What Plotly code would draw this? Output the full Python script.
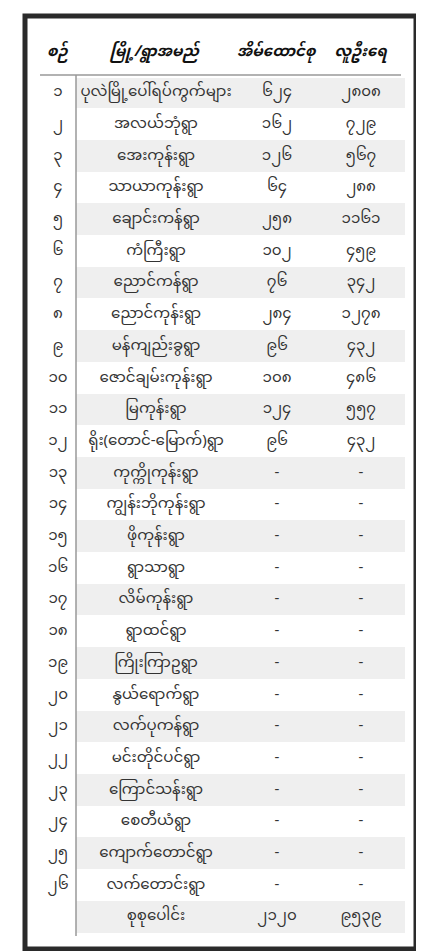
import plotly.graph_objects as go

# -- data
idx = ["၁", "၂", "၃", "၄", "၅", "၆", "၇", "၈", "၉", "၁၀", "၁၁", "၁၂", "၁၃",
       "၁၄", "၁၅", "၁၆", "၁၇", "၁၈", "၁၉", "၂၀", "၂၁", "၂၂", "၂၃", "၂၄", "၂၅", "၂၆", ""]
names = ["ပုလဲမြို့ပေါ်ရပ်ကွက်များ", "အလယ်ဘုံရွာ", "အေးကုန်းရွာ", "သာယာကုန်းရွာ",
         "ချောင်းကန်ရွာ", "ကံကြီးရွာ", "ညောင်ကန်ရွာ", "ညောင်ကုန်းရွာ", "မန်ကျည်းခွရွာ",
         "ဇောင်ချမ်းကုန်းရွာ", "မြကုန်းရွာ", "ရိုး(တောင်-မြောက်)ရွာ", "ကုက္ကိုကုန်းရွာ",
         "ကျွန်းဘိုကုန်းရွာ", "ဖိုကုန်းရွာ", "ရွာသာရွာ", "လိမ်ကုန်းရွာ", "ရွာထင်ရွာ",
         "ကြိုးကြာဥရွာ", "နွယ်ရောက်ရွာ", "လက်ပုကန်ရွာ", "မင်းတိုင်ပင်ရွာ", "ကြောင်သန်းရွာ",
         "စေတီယံရွာ", "ကျောက်တောင်ရွာ", "လက်တောင်းရွာ", "စုစုပေါင်း"]
houses = ["၆၂၄", "၁၆၂", "၁၂၆", "၆၄", "၂၅၈", "၁၀၂", "၇၆", "၂၈၄", "၉၆", "၁၀၈", "၁၂၄", "၉၆"] \
    + ["-"] * 14 + ["၂၁၂၀"]
people = ["၂၈၀၈", "၇၂၉", "၅၆၇", "၂၈၈", "၁၁၆၁", "၄၅၉", "၃၄၂", "၁၂၇၈", "၄၃၂", "၄၈၆",
          "၅၅၇", "၄၃၂"] + ["-"] * 14 + ["၉၅၃၉"]
header = ["စဉ်", "မြို့/ရွာအမည်", "အိမ်ထောင်စု", "လူဦးရေ"]

font_mm = "Noto Sans Myanmar, Padauk, Myanmar Text, Noto Sans, sans-serif"
shade = ["#efefef" if i % 2 == 0 else "white" for i in range(len(names))]
shade[-1] = "#efefef"

fig = go.Figure()
fig.add_trace(go.Table(
    domain=dict(x=[32 / 424, 396 / 424], y=[0, 1 - 20 / 951]),
    columnwidth=[36, 160, 82, 86],
    header=dict(values=["<b><i>%s</i></b>" % h for h in header],
                fill_color="white", line_color="white", height=47,
                font=dict(family=font_mm, size=15, color="#111"), align="center"),
    cells=dict(values=[idx, names, houses, people],
               fill_color=[["white"] * len(idx), shade, shade, shade],
               line_color=[["white"] * len(idx), shade, shade, shade],
               height=31.7, align="center",
               font=dict(family=font_mm, size=15, color="#333")),
))

# frame and rules
fig.add_shape(type="rect", xref="paper", yref="paper", x0=17 / 424, x1=408 / 424,
              y0=1 - 941 / 951, y1=1 - 8 / 951, line=dict(color="#2a2a2a", width=5))
fig.add_shape(type="line", xref="paper", yref="paper", x0=32 / 424, x1=393 / 424,
              y0=1 - 67 / 951, y1=1 - 67 / 951, line=dict(color="#999", width=1.5))
fig.add_shape(type="line", xref="paper", yref="paper", x0=68 / 424, x1=68 / 424,
              y0=1 - 928 / 951, y1=1 - 67 / 951, line=dict(color="#999", width=1.5))

fig.update_layout(width=424, height=951, margin=dict(l=0, r=0, t=0, b=0),
                  paper_bgcolor="white")
fig.write_html("out.html")
